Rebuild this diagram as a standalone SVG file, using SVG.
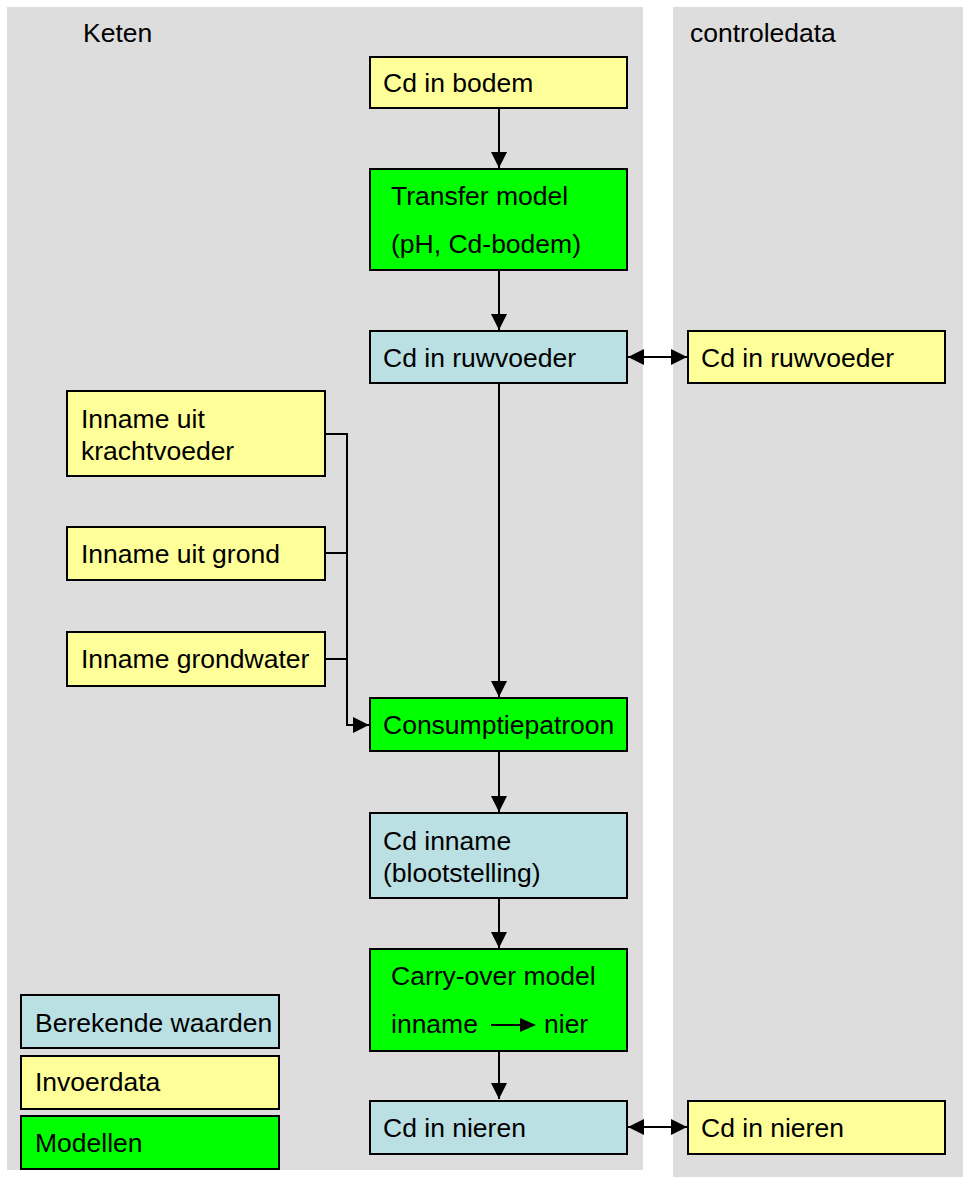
<svg xmlns="http://www.w3.org/2000/svg" width="963" height="1177" viewBox="0 0 963 1177">
<style>
.panel{fill:#DDDDDD}
.box{stroke:#000;stroke-width:2}
.blue{fill:#BBE0E3}
.yellow{fill:#FFFF99}
.green{fill:#00FF00}
text{font-family:"Liberation Sans",Arial,sans-serif;font-size:26.5px;fill:#000}
.conn{stroke:#000;stroke-width:2;fill:none}
</style>
<defs>
<marker id="ah" markerUnits="userSpaceOnUse" markerWidth="18" markerHeight="18" viewBox="0 0 18 18" refX="16" refY="9" orient="auto-start-reverse">
<path d="M0,1 L16,9 L0,17 Z" fill="#000"/>
</marker>
</defs>
<rect class="panel" x="7" y="7" width="636" height="1163"/>
<rect class="panel" x="673" y="7" width="290" height="1170"/>
<text x="83" y="42">Keten</text>
<text x="690" y="42">controledata</text>

<g id="connectors">
<line class="conn" x1="499" y1="108" x2="499" y2="168" marker-end="url(#ah)"/>
<line class="conn" x1="499" y1="270" x2="499" y2="330" marker-end="url(#ah)"/>
<line class="conn" x1="499" y1="383" x2="499" y2="697" marker-end="url(#ah)"/>
<line class="conn" x1="499" y1="751" x2="499" y2="812" marker-end="url(#ah)"/>
<line class="conn" x1="499" y1="898" x2="499" y2="948" marker-end="url(#ah)"/>
<line class="conn" x1="499" y1="1051" x2="499" y2="1099" marker-end="url(#ah)"/>
<line class="conn" x1="628" y1="357" x2="687" y2="357" marker-start="url(#ah)" marker-end="url(#ah)"/>
<line class="conn" x1="628" y1="1127" x2="687" y2="1127" marker-start="url(#ah)" marker-end="url(#ah)"/>
<polyline class="conn" points="325,434 347,434 347,725 369,725" marker-end="url(#ah)"/>
<line class="conn" x1="325" y1="553" x2="347" y2="553"/>
<line class="conn" x1="325" y1="659" x2="347" y2="659"/>
</g>

<g id="n-bodem"><rect class="box yellow" x="370" y="57" width="257" height="51"/><text x="383" y="92">Cd in bodem</text></g>
<g id="n-transfer"><rect class="box green" x="370" y="169" width="257" height="101"/><text x="391" y="205">Transfer model</text><text x="391" y="253">(pH, Cd-bodem)</text></g>
<g id="n-ruwvoeder"><rect class="box blue" x="370" y="331" width="257" height="52"/><text x="383" y="367">Cd in ruwvoeder</text></g>
<g id="n-ruwvoeder-ctrl"><rect class="box yellow" x="688" y="331" width="257" height="52"/><text x="701" y="367">Cd in ruwvoeder</text></g>
<g id="n-kracht"><rect class="box yellow" x="67" y="391" width="258" height="85"/><text x="81" y="428">Inname uit</text><text x="81" y="460">krachtvoeder</text></g>
<g id="n-grond"><rect class="box yellow" x="67" y="527" width="258" height="53"/><text x="81" y="563">Inname uit grond</text></g>
<g id="n-grondwater"><rect class="box yellow" x="67" y="632" width="258" height="54"/><text x="81" y="668">Inname grondwater</text></g>
<g id="n-consumptie"><rect class="box green" x="370" y="698" width="257" height="53"/><text x="383" y="734">Consumptiepatroon</text></g>
<g id="n-inname"><rect class="box blue" x="370" y="813" width="257" height="85"/><text x="383" y="850">Cd inname</text><text x="383" y="882">(blootstelling)</text></g>
<g id="n-carry"><rect class="box green" x="370" y="949" width="257" height="102"/><text x="391" y="985">Carry-over model</text><text x="391" y="1033">inname</text><text x="544" y="1033">nier</text>
<line class="conn" x1="491" y1="1025" x2="522" y2="1025"/><path d="M520,1018 L536,1025 L520,1032 Z" fill="#000"/></g>
<g id="n-nieren"><rect class="box blue" x="370" y="1101" width="257" height="53"/><text x="383" y="1137">Cd in nieren</text></g>
<g id="n-nieren-ctrl"><rect class="box yellow" x="688" y="1101" width="257" height="53"/><text x="701" y="1137">Cd in nieren</text></g>

<g id="legend-berekend"><rect class="box blue" x="21" y="995" width="258" height="53"/><text x="35" y="1032">Berekende waarden</text></g>
<g id="legend-invoer"><rect class="box yellow" x="21" y="1056" width="258" height="53"/><text x="35" y="1091">Invoerdata</text></g>
<g id="legend-modellen"><rect class="box green" x="21" y="1116" width="258" height="53"/><text x="35" y="1152">Modellen</text></g>
</svg>
